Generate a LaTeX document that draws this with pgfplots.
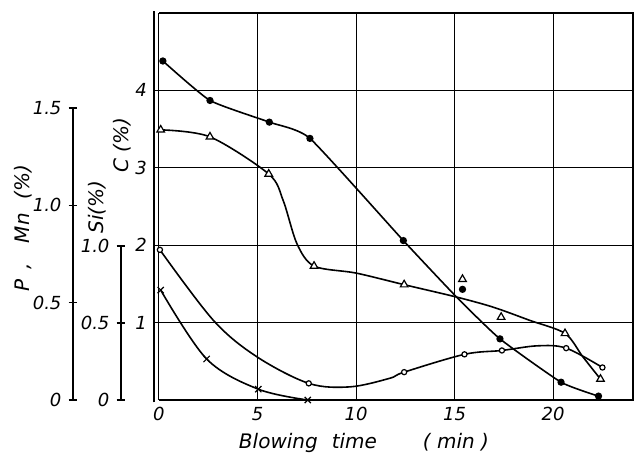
\documentclass[border=0pt]{standalone}
\usepackage{pgfplots}
\pgfplotsset{compat=1.18}
\usepackage{fontspec}
\setmainfont{DejaVu Sans}
\begin{document}
\begin{tikzpicture}[font=\itshape\fontsize{10}{12}\selectfont]
\useasboundingbox (0,0) rectangle (321pt,228pt);
\pgfplotsset{every axis/.append style={scale only axis, anchor=south west,
  /pgf/number format/assume math mode=true,
  tick label style={font=\itshape\fontsize{9}{10}\selectfont}}}
% --- P, Mn scale
\begin{axis}[at={(36.5pt,28pt)}, width=1pt, height=146pt,
  xmin=0, xmax=1, ymin=0, ymax=1.5,
  axis y line=left, axis x line=none, axis line style={-, line width=0.8pt},
  ytick={0,0.5,1,1.5}, yticklabels={0,0.5,1.0,1.5},
  tick align=center, major tick length=4.5pt, tick style={black, line width=0.8pt}]
\addplot[draw=none] coordinates {(0,0)};
\end{axis}
% --- Si scale
\begin{axis}[at={(60.5pt,28pt)}, width=1pt, height=77pt,
  xmin=0, xmax=1, ymin=0, ymax=1,
  axis y line=left, axis x line=none, axis line style={-, line width=0.8pt},
  ytick={0,0.5,1}, yticklabels={0,0.5,1.0},
  tick align=center, major tick length=4.5pt, tick style={black, line width=0.8pt}]
\addplot[draw=none] coordinates {(0,0)};
\end{axis}
% --- main (C scale)
\begin{axis}[at={(77pt,28pt)}, width=239.5pt, height=193.5pt,
  xmin=-0.25, xmax=24.05, ymin=0, ymax=5,
  xtick={0,5,10,15,20}, ytick={1,2,3,4},
  grid=major, grid style={black, line width=0.55pt},
  major tick length=0pt, axis line style={draw=none}, clip=false,
  every axis plot/.append style={black, line width=0.8pt}]
\draw[line width=1pt] (axis cs:0,0) -- (axis cs:24.05,0) -- (axis cs:24.05,5) -- (axis cs:0,5);
\draw[line width=1pt] (axis cs:-0.25,-0.03) -- (axis cs:-0.25,5.03);
% C curve (filled circles)
\addplot[smooth, tension=0.3, no marks] coordinates {
 (0.2,4.38) (2.59,3.87) (5.6,3.59) (7.66,3.38) (12.4,2.06) (15.1,1.33) (17.3,0.79) (20.4,0.23) (22.3,0.05)};
\addplot[only marks, mark=*, mark size=1.4pt] coordinates {
 (0.2,4.38) (2.59,3.87) (5.6,3.59) (7.66,3.38) (12.4,2.06) (15.4,1.43) (17.3,0.79) (20.4,0.23) (22.3,0.05)};
% Mn curve (triangles)
\addplot[smooth, tension=0.5, no marks] coordinates {
 (0.09,3.49) (2.59,3.40) (5.57,2.92) (6.3,2.58) (7.0,2.02) (7.87,1.73) (10.0,1.64) (12.44,1.49) (15.1,1.33) (16.95,1.20) (18.8,1.03) (20.6,0.86) (21.5,0.56) (22.4,0.27)};
\addplot[only marks, mark=triangle*, mark size=2.2pt, mark options={fill=white, line width=0.6pt}] coordinates {
 (0.09,3.49) (2.59,3.40) (5.57,2.92) (7.87,1.73) (12.44,1.49) (15.4,1.56) (17.36,1.07) (20.6,0.86) (22.4,0.27)};
% open circles
\addplot[smooth, tension=0.55, no marks] coordinates {
 (0.05,1.94) (2.76,1.03) (4.96,0.56) (7.6,0.215) (9.7,0.17) (11.7,0.28) (12.44,0.36) (15.5,0.59) (17.4,0.64) (19.2,0.70) (20.66,0.67) (22.5,0.42)};
\addplot[only marks, mark=*, mark size=1.3pt, mark options={fill=white, line width=0.6pt}] coordinates {
 (0.05,1.94) (7.6,0.215) (12.44,0.36) (15.5,0.59) (17.4,0.64) (20.66,0.67) (22.5,0.42)};
% crosses
\addplot[smooth, tension=0.55, mark=x, mark size=2.2pt, mark options={line width=0.6pt}] coordinates {
 (0.09,1.42) (2.42,0.53) (5.04,0.14) (7.55,0.0)};
\end{axis}
% --- labels
\node[rotate=90] at (11.5pt,114pt) {P\hspace{5pt},\hspace{10pt}Mn\hspace{7pt}(\%)};
\node[rotate=90] at (48.5pt,124.5pt) {Si(\%)};
\node[rotate=90] at (61pt,155.5pt) {C (\%)};
\node at (182pt,6.5pt) {Blowing\hspace{7pt}time\hspace{23pt}( min )};
\end{tikzpicture}
\end{document}
